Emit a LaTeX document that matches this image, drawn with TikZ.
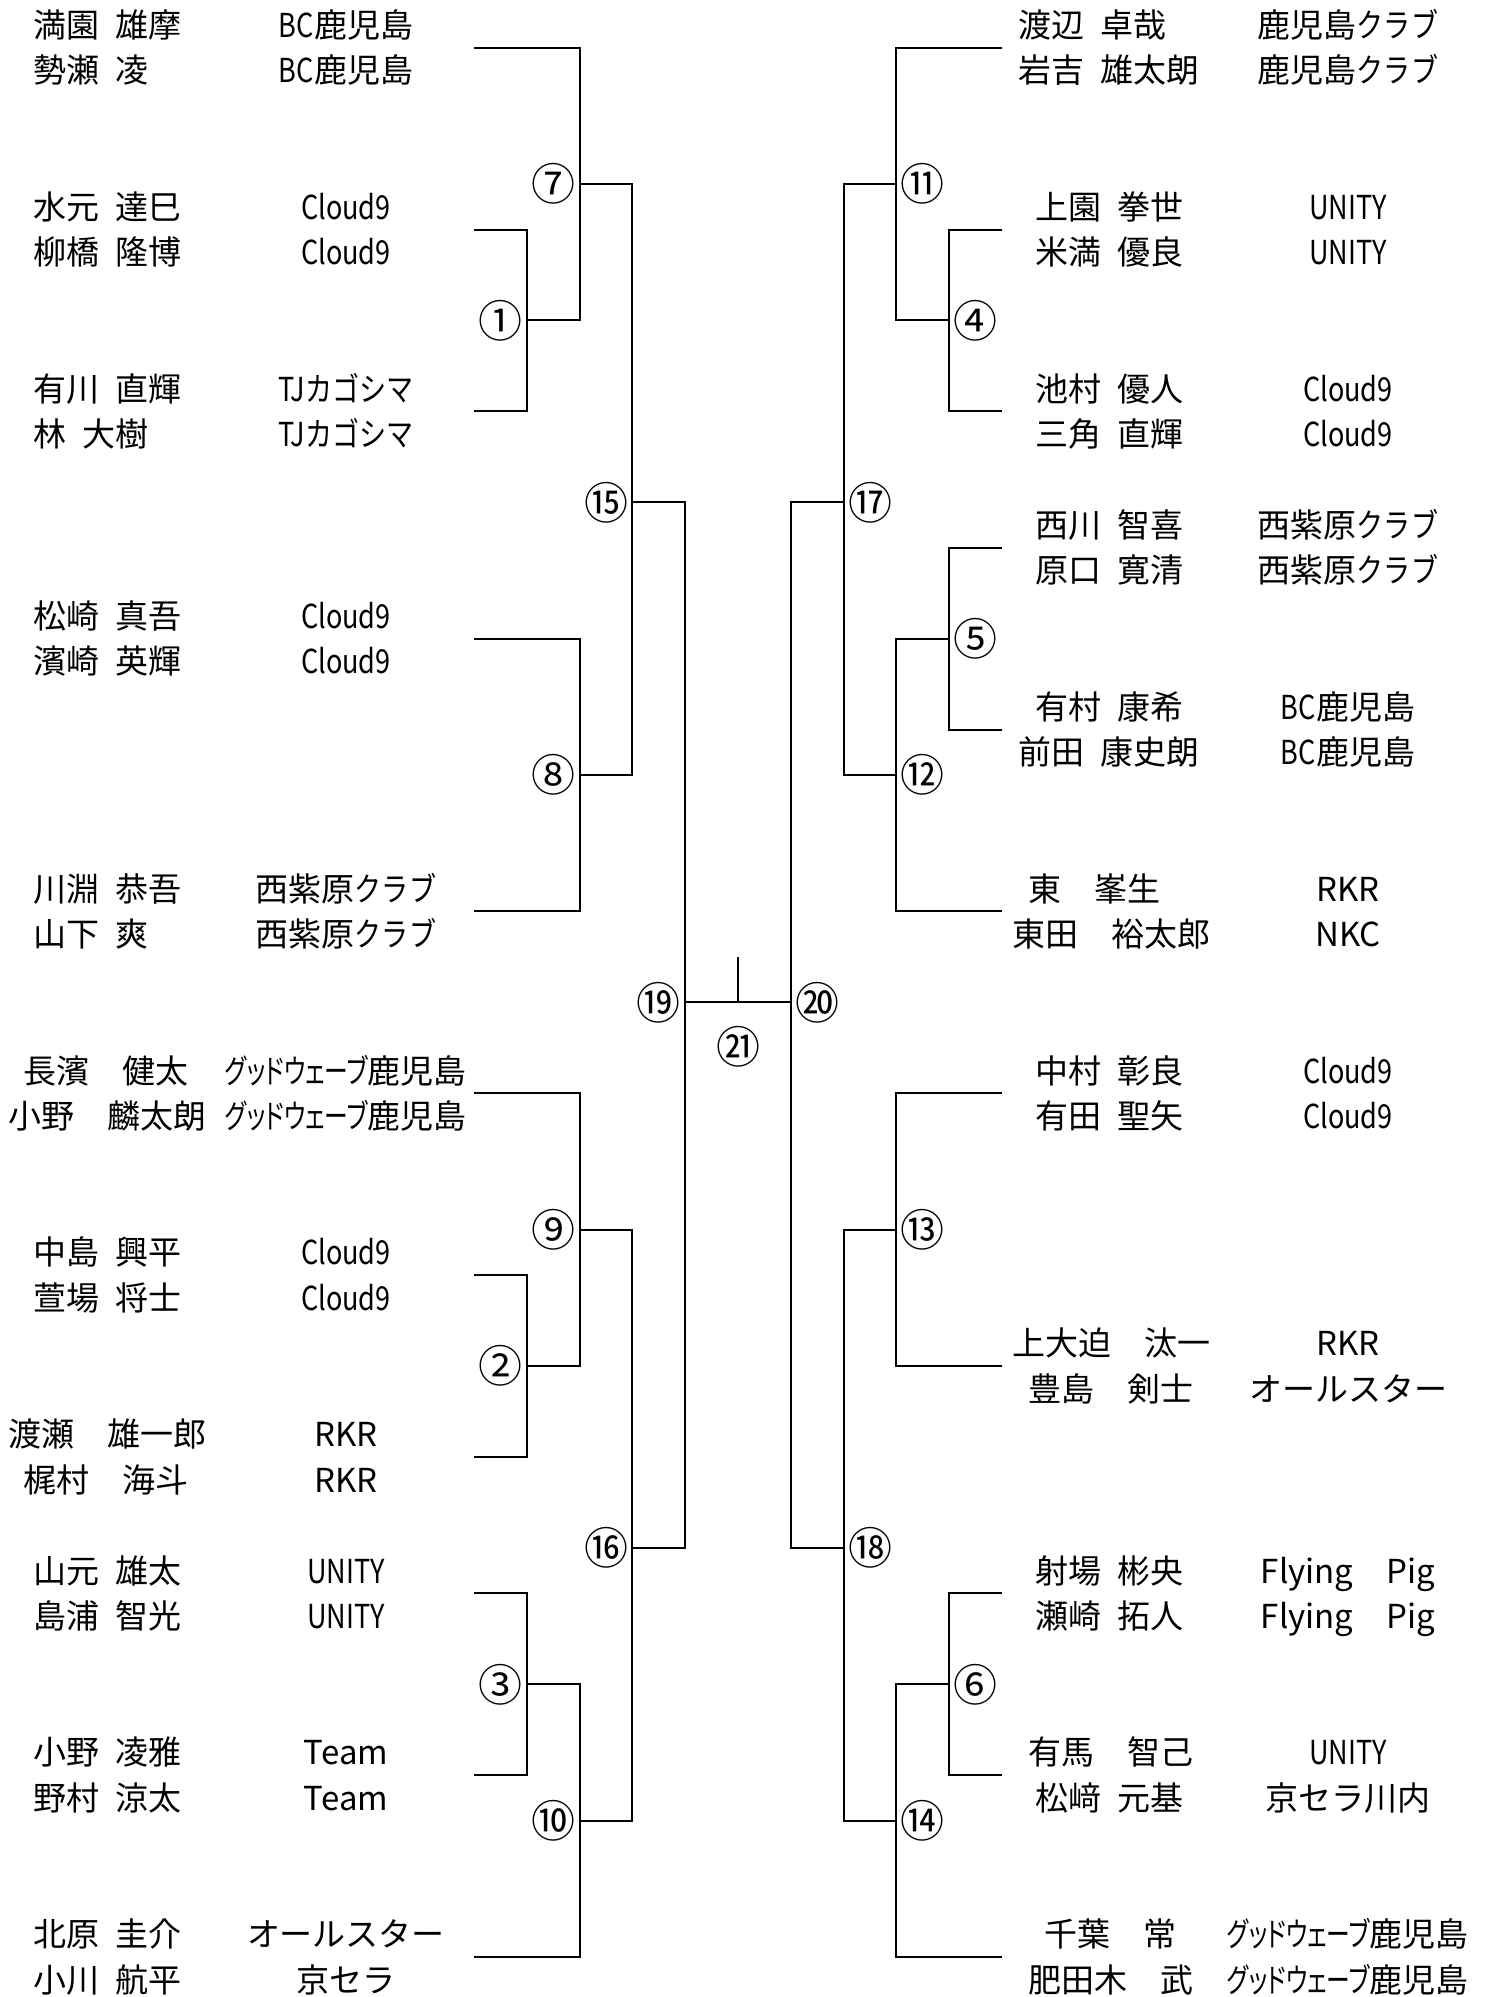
\documentclass[tikz,border=0pt]{standalone}
\usepackage{fontspec}
\setmainfont{Noto Sans CJK JP}
\newfontfamily\narrowfont{Noto Sans CJK JP}[FakeStretch=0.82]
\newfontfamily\narrowkana{Noto Sans CJK JP}[FakeStretch=0.72,RawFeature=+palt]
\newcommand{\nar}[1]{{\narrowfont #1}}
\newcommand{\nark}[1]{{\narrowkana #1}}
\newcommand{\halfsp}{\hspace{0.5em}}
\newcommand{\fullsp}{\hspace{1em}}
\usetikzlibrary{positioning}

\begin{document}
\begin{tikzpicture}[
    x=0.5pt, y=-11.365pt,
    player/.style={inner sep=0pt, anchor=west, text height=14.5pt,
                   text depth=2pt, font=\fontsize{16.5}{19}\selectfont},
    team/.style={inner sep=0pt, text height=14.5pt, text depth=2pt,
                 font=\fontsize{16.5}{19}\selectfont},
    num/.style={inner sep=0pt, text height=19.4pt, text depth=2.6pt,
                font=\fontsize{22}{24}\selectfont},
    bracket/.style={draw, line width=1pt},
]
\useasboundingbox (0,-2.0986) rectangle (1486,85.76);

% left half
\foreach \r/\x/\nm/\tm [count=\i] in {
    -1/33/{満園\halfsp 雄摩}/{\nar{BC}鹿児島},
    1/33/{勢瀬\halfsp 凌}/{\nar{BC}鹿児島},
    7/33/{水元\halfsp 達巳}/{\nar{Cloud9}},
    9/33/{柳橋\halfsp 隆博}/{\nar{Cloud9}},
    15/33/{有川\halfsp 直輝}/{\nar{TJカゴシマ}},
    17/33/{林\halfsp 大樹}/{\nar{TJカゴシマ}},
    25/33/{松崎\halfsp 真吾}/{\nar{Cloud9}},
    27/33/{濱崎\halfsp 英輝}/{\nar{Cloud9}},
    37/33/{川淵\halfsp 恭吾}/{西紫原\nar{クラブ}},
    39/33/{山下\halfsp 爽}/{西紫原\nar{クラブ}},
    45/23/{長濱\fullsp 健太}/{\nark{グッドウェーブ}鹿児島},
    47/8/{小野\fullsp 麟太朗}/{\nark{グッドウェーブ}鹿児島},
    53/33/{中島\halfsp 興平}/{\nar{Cloud9}},
    55/33/{萱場\halfsp 将士}/{\nar{Cloud9}},
    61/8/{渡瀬\fullsp 雄一郎}/{RKR},
    63/23/{梶村\fullsp 海斗}/{RKR},
    67/33/{山元\halfsp 雄太}/{\nar{UNITY}},
    69/33/{島浦\halfsp 智光}/{\nar{UNITY}},
    75/33/{小野\halfsp 凌雅}/{Team},
    77/33/{野村\halfsp 涼太}/{Team},
    83/33/{北原\halfsp 圭介}/{オールスター},
    85/33/{小川\halfsp 航平}/{京セラ}}{
  \node[player] (pl\i) at (\x,\r) {\nm};
  \node[team] (tl\i) at (346,\r) {\tm};
}

% right half
\foreach \r/\x/\nm/\tm [count=\i] in {
    -1/1018/{渡辺\halfsp 卓哉}/{鹿児島\nar{クラブ}},
    1/1018/{岩吉\halfsp 雄太朗}/{鹿児島\nar{クラブ}},
    7/1035/{上園\halfsp 拳世}/{\nar{UNITY}},
    9/1035/{米満\halfsp 優良}/{\nar{UNITY}},
    15/1035/{池村\halfsp 優人}/{\nar{Cloud9}},
    17/1035/{三角\halfsp 直輝}/{\nar{Cloud9}},
    21/1035/{西川\halfsp 智喜}/{西紫原\nar{クラブ}},
    23/1035/{原口\halfsp 寛清}/{西紫原\nar{クラブ}},
    29/1035/{有村\halfsp 康希}/{\nar{BC}鹿児島},
    31/1018/{前田\halfsp 康史朗}/{\nar{BC}鹿児島},
    37/1028/{東\fullsp 峯生}/{RKR},
    39/1012/{東田\fullsp 裕太郎}/{NKC},
    45/1035/{中村\halfsp 彰良}/{\nar{Cloud9}},
    47/1035/{有田\halfsp 聖矢}/{\nar{Cloud9}},
    57/1012/{上大迫\fullsp 汰一}/{RKR},
    59/1028/{豊島\fullsp 剣士}/{オールスター},
    67/1035/{射場\halfsp 彬央}/{Flying\fullsp Pig},
    69/1035/{瀬崎\halfsp 拓人}/{Flying\fullsp Pig},
    75/1028/{有馬\fullsp 智己}/{\nar{UNITY}},
    77/1035/{松﨑\halfsp 元基}/{京セラ川内},
    83/1044/{千葉\fullsp 常}/{\nark{グッドウェーブ}鹿児島},
    85/1028/{肥田木\fullsp 武}/{\nark{グッドウェーブ}鹿児島}}{
  \node[player] (pr\i) at (\x,\r) {\nm};
  \node[team] (tr\i) at (1348,\r) {\tm};
}

% pair ends
\foreach \p/\r in {A/0,B/8,C/16,D/26,E/38,F/46,G/54,H/62,I/68,J/76,K/84}
  \coordinate (p\p) at (474,\r);
\foreach \p/\r in {a/0,b/8,c/16,d/22,e/30,f/38,g/46,h/58,i/68,j/76,k/84}
  \coordinate (q\p) at (1002,\r);

% match points
\foreach \m/\x/\r in {1/526.8/12, 2/526.8/58, 3/526.8/72,
                      4/949.2/12, 5/949.2/26, 6/949.2/72,
                      7/579.6/6, 8/579.6/32, 9/579.6/52, 10/579.6/78,
                      11/896.4/6, 12/896.4/32, 13/896.4/52, 14/896.4/78,
                      15/632.4/20, 16/632.4/66, 17/843.6/20, 18/843.6/66,
                      19/685.2/42, 20/790.8/42, 21/738/42}
  \coordinate (m\m) at (\x,\r);
\coordinate (tick) at (738,40);

% brackets
\foreach \m/\u/\v in {m1/pB/pC, m2/pG/pH, m3/pI/pJ,
                      m4/qb/qc, m5/qd/qe, m6/qi/qj,
                      m7/pA/m1, m8/pD/pE, m9/pF/m2, m10/m3/pK,
                      m11/qa/m4, m12/m5/qf, m13/qg/qh, m14/m6/qk,
                      m15/m7/m8, m16/m9/m10, m17/m11/m12, m18/m13/m14,
                      m19/m15/m16, m20/m17/m18}
  \draw[bracket] (\u) -| (\m) |- (\v);
\draw[bracket] (m19) -- (m20);
\draw[bracket] (m21) -- (tick);

% match numbers
\foreach \m/\t in {1/①, 2/②, 3/③, 7/⑦, 8/⑧, 9/⑨, 10/⑩,
                   15/⑮, 16/⑯, 19/⑲}
  \node[num, left=2pt of m\m] (n\m) {\t};
\foreach \m/\t in {4/④, 5/⑤, 6/⑥, 11/⑪, 12/⑫, 13/⑬, 14/⑭,
                   17/⑰, 18/⑱, 20/⑳}
  \node[num, right=2pt of m\m] (n\m) {\t};
\node[num, below=11pt of m21] (n21) {㉑};
\end{tikzpicture}
\end{document}
